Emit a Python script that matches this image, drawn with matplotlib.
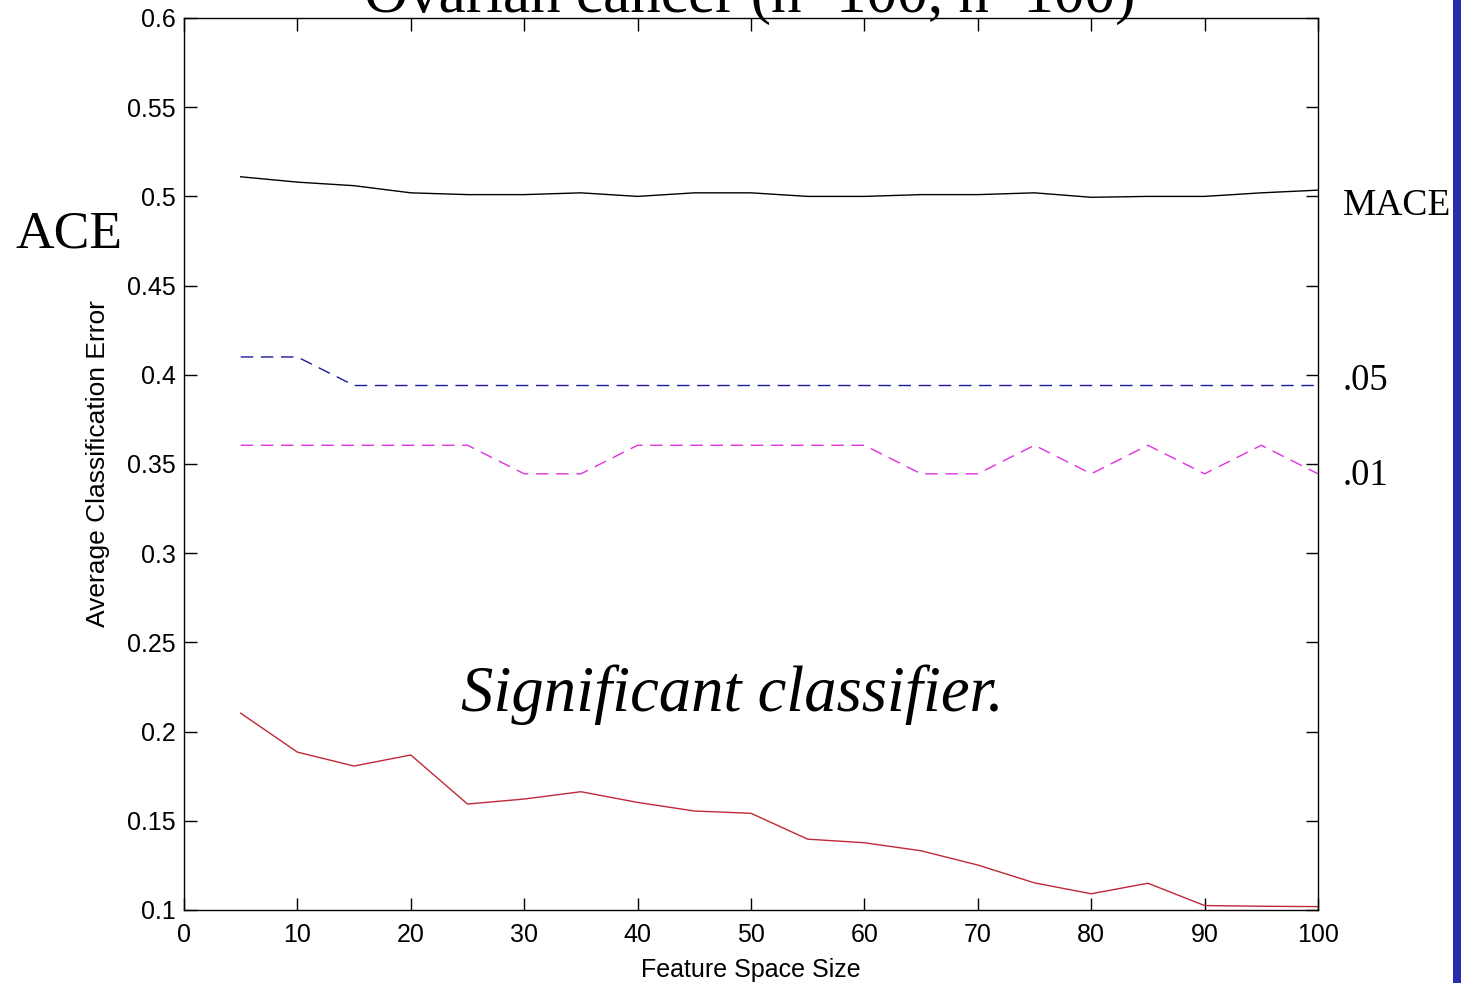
import numpy as np
import matplotlib
matplotlib.use("Agg")
import matplotlib.pyplot as plt
from matplotlib.patches import Rectangle
from matplotlib.ticker import FuncFormatter

plt.rcParams['font.family'] = ['Liberation Sans', 'DejaVu Sans']

# feature space sizes
feature_size = [5, 10, 15, 20, 25, 30, 35, 40, 45, 50,
                55, 60, 65, 70, 75, 80, 85, 90, 95, 100]

# mean ACE under permutation (MACE)
mace = [0.511, 0.508, 0.506, 0.502, 0.501, 0.501, 0.502, 0.500, 0.502, 0.502,
        0.500, 0.500, 0.501, 0.501, 0.502, 0.4995, 0.500, 0.500, 0.502, 0.5035]

# .05 significance level
level_05 = [0.41, 0.41, 0.394, 0.394, 0.394, 0.394, 0.394, 0.394, 0.394, 0.394,
            0.394, 0.394, 0.394, 0.394, 0.394, 0.394, 0.394, 0.394, 0.394, 0.394]

# .01 significance level
level_01 = [0.3605, 0.3605, 0.3605, 0.3605, 0.3605, 0.3445, 0.3445, 0.3605, 0.3605, 0.3605,
            0.3605, 0.3605, 0.3445, 0.3445, 0.3605, 0.3445, 0.3605, 0.3445, 0.3605, 0.3445]

# observed ACE
ace = [0.2103, 0.1885, 0.1807, 0.1869, 0.1594, 0.1622, 0.1663, 0.1603, 0.1555, 0.1542,
       0.1397, 0.1377, 0.1332, 0.1252, 0.1152, 0.1091, 0.1150, 0.1025, 0.1021, 0.1019]

W, H = 1461, 983
fig = plt.figure(figsize=(W / 100, H / 100), dpi=100)
ax = fig.add_axes([184 / W, 1 - 910 / H, (1318 - 184) / W, (910 - 18) / H])

ax.plot(feature_size, mace, color='black', lw=1.0)
ax.plot(feature_size, level_05, color='#1c1c9a', lw=1.0, dashes=(9, 5.5))
ax.plot(feature_size, level_01, color='#e030e0', lw=1.0, dashes=(9, 5.5))
ax.plot(feature_size, ace, color='#c02838', lw=1.0)

ax.set_xlim(0, 100)
ax.set_ylim(0.1, 0.6)
ax.set_xticks(np.arange(0, 101, 10))
ax.set_yticks(np.arange(0.1, 0.601, 0.05))
ax.yaxis.set_major_formatter(FuncFormatter(lambda v, p: ('%g' % round(v, 2))))
ax.tick_params(direction='in', length=9, width=1.0, top=True, right=True,
               labelsize=18, pad=6)
ax.tick_params(axis='x', pad=9)
for s in ax.spines.values():
    s.set_linewidth(1.0)

ax.set_xlabel('Feature Space Size', fontsize=18, labelpad=8)
ax.set_ylabel('Average Classification Error', fontsize=19, labelpad=12)

serif = ['Liberation Serif', 'DejaVu Serif']


def ftext(x, y, s, **kw):
    fig.text(x / W, 1 - y / H, s, family=serif, va='baseline', **kw)


# title is cut off at the top edge, as in the original slide
ftext(750, 12, 'Ovarian cancer (n=100, n=100)', fontsize=44, ha='center')
ftext(15, 247, 'ACE', fontsize=38.5, ha='left')
ftext(1343, 215, 'MACE', fontsize=27, ha='left')
ftext(1343, 390, '.05', fontsize=26.5, ha='left')
ftext(1343, 485, '.01', fontsize=26.5, ha='left')
ftext(732, 711, 'Significant classifier.', fontsize=46.5, ha='center', style='italic')

# slide border strip on the right
fig.patches.append(Rectangle((1453 / W, 0), 1 - 1453 / W, 1, transform=fig.transFigure,
                             facecolor='#2b2bae', edgecolor='none'))

fig.savefig('out.png', dpi=100)
